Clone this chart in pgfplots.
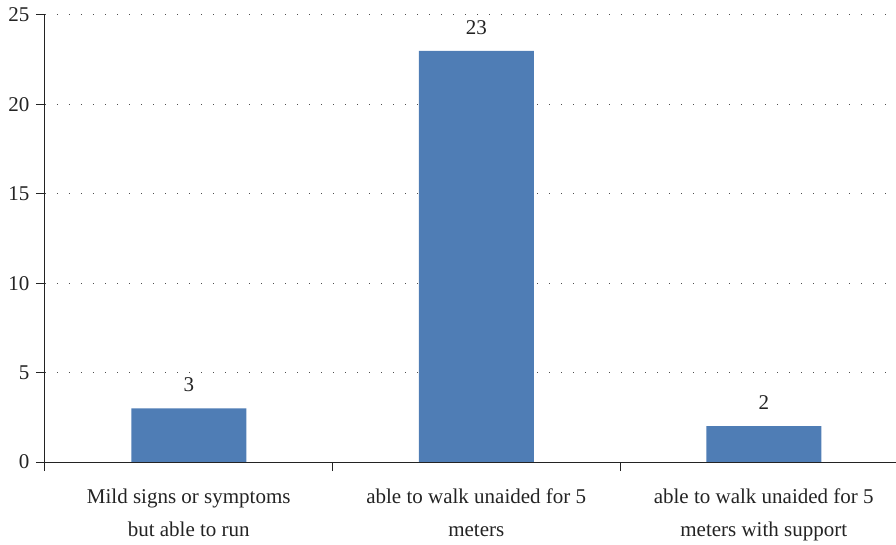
\documentclass[border=0pt]{standalone}
\usepackage{pgfplots}
\pgfplotsset{compat=1.18}
\usepackage{fontspec}
\setmainfont{Liberation Serif}
\definecolor{barblue}{RGB}{79,125,181}
\definecolor{txt}{RGB}{35,35,35}
\begin{document}
\begin{tikzpicture}
\path[use as bounding box] (-45pt,-82pt) rectangle (851pt,462pt);
\begin{axis}[at={(0pt,0pt)}, anchor=south west, scale only axis,
  width=851pt, height=447pt,
  xmin=-0.5, xmax=2.46, ymin=0, ymax=25,
  axis line style={draw=none},
  extra description/.code={
    \draw[txt, line width=1pt] (rel axis cs:0,1) -- (rel axis cs:0,0) -- (rel axis cs:1,0);
    \foreach \v in {0,0.2,0.4,0.6,0.8,1} {\draw[txt, line width=1pt] (rel axis cs:0,\v) -- ++(-9pt,0pt);}
  },
  xtick pos=left, ytick pos=left,
  /pgf/number format/assume math mode=true,
  ytick={0,5,...,25},
  xtick={-0.5,0.5,1.5},
  xticklabels={},
  extra x ticks={0,1,2},
  extra x tick labels={{Mild signs or symptoms\\but able to run},{able to walk unaided for 5\\meters},{able to walk unaided for 5\\meters with support}},
  extra x tick style={major tick length=0pt, grid=none},
  ymajorgrids,
  tick style={draw=txt, line width=1pt},
  tick align=outside,
  major tick length=9pt,
  grid style={dash pattern=on 1.2pt off 10.8pt, txt!80, line width=1pt},
  tick label style={font=\fontsize{21}{33}\selectfont, text=txt},
  xticklabel style={align=center, yshift=-23pt},
  yticklabel style={xshift=-3pt},
  clip=false,
]
\addplot[ybar, bar width=115pt, fill=barblue, draw=none,
  nodes near coords,
  every node near coord/.append style={font=\fontsize{21}{24}\selectfont, text=txt, yshift=13pt}]
  coordinates {(0,3) (1,23) (2,2)};
\end{axis}
\end{tikzpicture}
\end{document}
